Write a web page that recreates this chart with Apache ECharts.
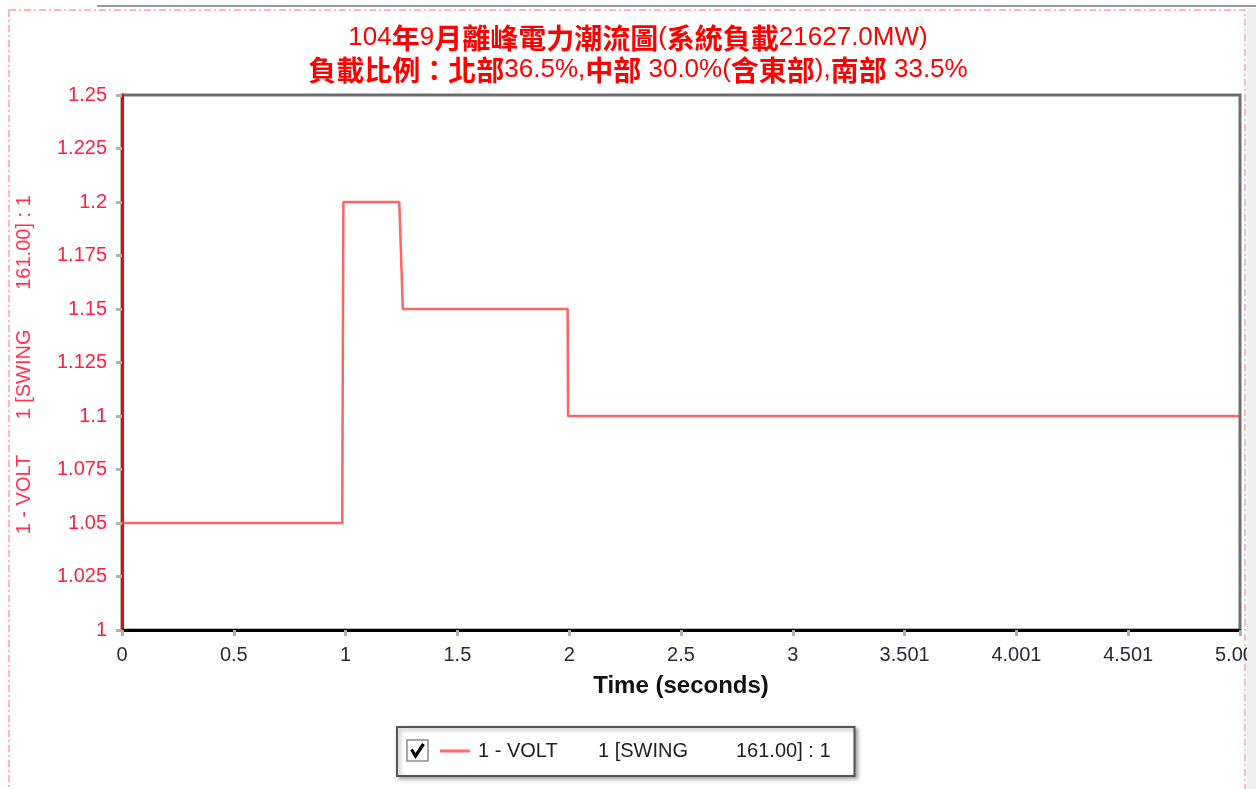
<!DOCTYPE html>
<html>
<head>
<meta charset="utf-8">
<title>104年9月離峰電力潮流圖</title>
<script src="https://cdn.jsdelivr.net/npm/echarts@6/dist/echarts.min.js"></script>
<style>
  html, body { margin: 0; padding: 0; background: #efefef; }
  #frame { position: relative; width: 1256px; height: 789px; background: #efefef; overflow: hidden; }
  #topbar { position: absolute; left: 0; top: 0; width: 1256px; height: 8px; background: #fff; }
  #topbar::after { content: ""; position: absolute; left: 97px; right: 0; top: 5px; height: 2px; background: #9a9a9a; }
  #chart { position: absolute; left: 0; top: 8px; width: 1247px; height: 781px; background: #fff; }
</style>
</head>
<body>
<div id="frame">
  <div id="topbar"></div>
  <div id="chart"></div>
</div>
<script>
// Bus voltage step response (per unit) against simulation time (seconds)
const TIME = [0, 0.985, 0.99, 1.240, 1.256, 1.993, 1.995, 5.0];
const VOLT = [1.05, 1.05, 1.2, 1.2, 1.15, 1.15, 1.1, 1.1];

// Tick labels as printed by the simulator (time steps are not exact)
const X_TICK_LABELS = ['0', '0.5', '1', '1.5', '2', '2.5', '3', '3.501', '4.001', '4.501', '5.001'];

// Channel identifier, three columns
const CHANNEL_PARTS = ['1 - VOLT', '1 [SWING', '161.00] : 1'];
const CHANNEL_NAME = CHANNEL_PARTS.join('       ');

const TITLE_LINES = [
  '104年9月離峰電力潮流圖(系統負載21627.0MW)',
  '負載比例：北部36.5%,中部 30.0%(含東部),南部 33.5%'
];

const RED = '#ff0000';
const AXIS_RED = '#ff2040';
const LATIN = '"Liberation Sans", Arial, sans-serif';
const CJK = '"Noto Sans CJK TC", "Noto Sans CJK SC", sans-serif';

// wrap CJK runs so they get the bold CJK style
function richTitle(line) {
  return line.replace(/([\u3000-\u9fff\uff00-\uffef]+)/g, '{c|$1}');
}

function channelRich(size, color, widths, leadPad) {
  const base = { fontFamily: LATIN, fontSize: size, color: color };
  return {
    a: Object.assign({}, base, { width: widths[0] }, leadPad ? { padding: [0, 0, 0, leadPad] } : {}),
    b: Object.assign({}, base, { width: widths[1] }),
    c: Object.assign({}, base, widths[2] ? { width: widths[2] } : {})
  };
}
function channelText() {
  return '{a|' + CHANNEL_PARTS[0] + '}{b|' + CHANNEL_PARTS[1] + '}{c|' + CHANNEL_PARTS[2] + '}';
}

const chart = echarts.init(document.getElementById('chart'), null, { renderer: 'canvas' });

const option = {
  animation: false,
  backgroundColor: '#fff',
  title: {
    text: TITLE_LINES.map(richTitle).join('\n'),
    left: 633,
    top: 9,
    textAlign: 'center',
    padding: 5,
    textStyle: {
      fontFamily: LATIN,
      fontSize: 26,
      fontWeight: 'normal',
      color: RED,
      lineHeight: 32,
      rich: {
        c: {
          fontFamily: CJK,
          fontWeight: 'bold',
          fontSize: 28,
          color: RED,
          lineHeight: 32
        }
      }
    }
  },
  grid: {
    left: 122,
    top: 87,
    width: 1118,
    height: 535,
    containLabel: false,
    outerBoundsMode: 'none',
    show: true,
    borderColor: '#6e6e6e',
    borderWidth: 3,
    backgroundColor: '#fff'
  },
  xAxis: {
    type: 'value',
    min: 0,
    max: 5,
    interval: 0.5,
    name: 'Time (seconds)',
    nameLocation: 'middle',
    nameGap: 44,
    nameTextStyle: {
      fontFamily: LATIN,
      fontSize: 24,
      fontWeight: 'bold',
      color: '#111'
    },
    axisLine: { show: true, onZero: false, lineStyle: { color: '#000', width: 3 } },
    axisTick: { show: true, length: 6, lineStyle: { color: '#b0b0b0', width: 3 } },
    axisLabel: {
      margin: 15,
      fontFamily: LATIN,
      fontSize: 20,
      color: '#2a2a3a',
      showMaxLabel: true,
      hideOverlap: false,
      formatter: function (v) { return X_TICK_LABELS[Math.round(v / 0.5)]; }
    },
    splitLine: { show: false }
  },
  yAxis: {
    type: 'value',
    min: 1,
    max: 1.25,
    interval: 0.025,
    name: channelText(),
    nameLocation: 'middle',
    nameGap: 88,
    nameTextStyle: {
      fontFamily: LATIN,
      fontSize: 20,
      color: '#ff3050',
      rich: channelRich(20, '#ff3050', [122, 118, 146])
    },
    axisLine: { show: true, lineStyle: { color: RED, width: 3 } },
    axisTick: { show: true, length: 6, lineStyle: { color: '#b0b0b0', width: 3 } },
    axisLabel: {
      margin: 15,
      fontFamily: LATIN,
      fontSize: 20,
      color: AXIS_RED
    },
    splitLine: { show: false }
  },
  legend: {
    left: 397,
    top: 719,
    orient: 'horizontal',
    backgroundColor: '#fff',
    borderColor: '#555',
    borderWidth: 2,
    borderRadius: 0,
    padding: [13, 24, 14, 43],
    shadowColor: 'rgba(0,0,0,0.35)',
    shadowBlur: 4,
    shadowOffsetX: 2,
    shadowOffsetY: 2,
    icon: 'rect',
    itemWidth: 30,
    itemHeight: 3,
    selectedMode: false,
    data: [CHANNEL_NAME],
    formatter: channelText,
    textStyle: {
      fontFamily: LATIN,
      fontSize: 20,
      color: '#222',
      lineHeight: 22,
      rich: channelRich(20, '#222', [120, 138], 3)
    }
  },
  graphic: [
    {
      // dash-dot frame around the plot window
      type: 'rect',
      z: 0,
      silent: true,
      shape: { x: 9, y: 2, width: 1236, height: 800 },
      style: { fill: null, stroke: '#ffa0a0', lineWidth: 1.5, lineDash: [7, 3, 2, 3] }
    },
    {
      // legend check box
      type: 'rect',
      z: 100,
      zlevel: 1,
      silent: true,
      shape: { x: 407, y: 732, width: 21, height: 21 },
      style: { fill: '#fff', stroke: '#8a8a8a', lineWidth: 1.5 }
    },
    {
      type: 'polyline',
      z: 101,
      zlevel: 1,
      silent: true,
      shape: { points: [[411.5, 741.5], [415.5, 748], [423.5, 736]] },
      style: { fill: null, stroke: '#000', lineWidth: 3.2 }
    }
  ],
  series: [
    {
      name: CHANNEL_NAME,
      type: 'line',
      showSymbol: false,
      symbol: 'none',
      clip: true,
      data: TIME.map((t, i) => [t, VOLT[i]]),
      lineStyle: { color: 'rgba(255,60,60,0.8)', width: 2.5 },
      itemStyle: { color: 'rgba(255,90,90,0.9)' }
    }
  ]
};

chart.setOption(option);
</script>
</body>
</html>
